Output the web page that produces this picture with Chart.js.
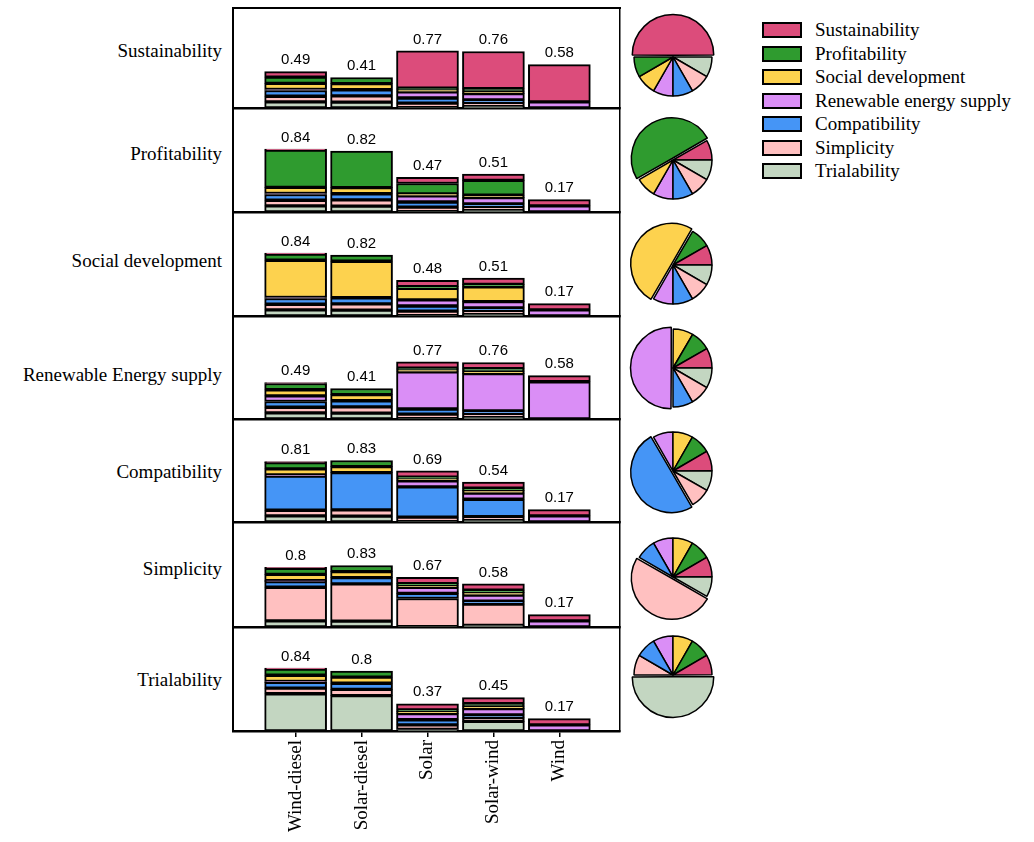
<!DOCTYPE html>
<html>
<head>
<meta charset="utf-8">
<script src="https://cdn.jsdelivr.net/npm/chart.js@4.4.1/dist/chart.umd.min.js"></script>
<style>
  body { margin: 0; background: #fff; }
  #wrap { position: relative; width: 1034px; height: 842px; overflow: hidden; }
  #wrap canvas { position: absolute; }
  .rowTitle { position: absolute; left: 0; width: 222px; text-align: right; line-height: 24px;
              font: 19px "Liberation Serif", "DejaVu Serif", serif; color: #000; white-space: nowrap; }
  .legItem { position: absolute; left: 762px; height: 22px; display: flex; align-items: center;
             font: 19px "Liberation Serif", "DejaVu Serif", serif; color: #000; white-space: nowrap; }
  .legBox { display: inline-block; box-sizing: border-box; width: 40px; height: 16px;
            border: 2px solid #000; margin-right: 13px; }
</style>
</head>
<body>
<div id="wrap"></div>
<script>
// categories
const alternatives = ['Wind-diesel', 'Solar-diesel', 'Solar', 'Solar-wind', 'Wind'];
const criteria = ['Sustainability', 'Profitability', 'Social development', 'Renewable energy supply',
                  'Compatibility', 'Simplicity', 'Trialability'];
const rowTitles = ['Sustainability', 'Profitability', 'Social development', 'Renewable Energy supply',
                   'Compatibility', 'Simplicity', 'Trialability'];
const colours = ['#dc4c7b', '#2f9b2f', '#fdd24e', '#da8ef6', '#4595f6', '#ffc0c0', '#c3d6c1'];

// stacked segments: one line per criterion (legend order), one value per alternative
const sustainabilityBars = [
  [0.075, 0, 0.5, 0.5, 0.5],
  [0.083, 0.082, 0.023, 0.033, 0],
  [0.083, 0.082, 0.026, 0.033, 0],
  [0.013, 0, 0.083, 0.083, 0.083],
  [0.077, 0.083, 0.068, 0.039, 0],
  [0.075, 0.083, 0.063, 0.048, 0],
  [0.083, 0.079, 0.003, 0.022, 0]
];
const profitabilityBars = [
  [0.013, 0, 0.083, 0.083, 0.083],
  [0.5, 0.49, 0.14, 0.2, 0],
  [0.083, 0.082, 0.026, 0.033, 0],
  [0.013, 0, 0.083, 0.083, 0.083],
  [0.077, 0.083, 0.068, 0.039, 0],
  [0.075, 0.083, 0.063, 0.048, 0],
  [0.083, 0.079, 0.003, 0.022, 0]
];
const socialBars = [
  [0.013, 0, 0.083, 0.083, 0.083],
  [0.083, 0.082, 0.023, 0.033, 0],
  [0.5, 0.49, 0.155, 0.2, 0],
  [0.013, 0, 0.083, 0.083, 0.083],
  [0.077, 0.083, 0.068, 0.039, 0],
  [0.075, 0.083, 0.063, 0.048, 0],
  [0.083, 0.079, 0.003, 0.022, 0]
];
const renewableBars = [
  [0.013, 0, 0.083, 0.083, 0.083],
  [0.083, 0.082, 0.023, 0.033, 0],
  [0.083, 0.082, 0.026, 0.033, 0],
  [0.075, 0, 0.5, 0.5, 0.5],
  [0.077, 0.083, 0.068, 0.039, 0],
  [0.075, 0.083, 0.063, 0.048, 0],
  [0.083, 0.079, 0.003, 0.022, 0]
];
const compatibilityBars = [
  [0.013, 0, 0.083, 0.083, 0.083],
  [0.083, 0.082, 0.023, 0.033, 0],
  [0.083, 0.082, 0.026, 0.033, 0],
  [0.013, 0, 0.083, 0.083, 0.083],
  [0.46, 0.5, 0.405, 0.235, 0],
  [0.075, 0.083, 0.063, 0.048, 0],
  [0.083, 0.079, 0.003, 0.022, 0]
];
const simplicityBars = [
  [0.013, 0, 0.083, 0.083, 0.083],
  [0.083, 0.082, 0.023, 0.033, 0],
  [0.083, 0.082, 0.026, 0.033, 0],
  [0.013, 0, 0.083, 0.083, 0.083],
  [0.077, 0.083, 0.068, 0.039, 0],
  [0.45, 0.5, 0.38, 0.285, 0],
  [0.083, 0.079, 0.003, 0.022, 0]
];
const trialabilityBars = [
  [0.013, 0, 0.083, 0.083, 0.083],
  [0.083, 0.082, 0.023, 0.033, 0],
  [0.083, 0.082, 0.026, 0.033, 0],
  [0.013, 0, 0.083, 0.083, 0.083],
  [0.077, 0.083, 0.068, 0.039, 0],
  [0.075, 0.083, 0.063, 0.048, 0],
  [0.5, 0.475, 0.02, 0.13, 0]
];

// totals printed above the bars
const sustainabilityTotals = ['0.49', '0.41', '0.77', '0.76', '0.58'];
const profitabilityTotals = ['0.84', '0.82', '0.47', '0.51', '0.17'];
const socialTotals = ['0.84', '0.82', '0.48', '0.51', '0.17'];
const renewableTotals = ['0.49', '0.41', '0.77', '0.76', '0.58'];
const compatibilityTotals = ['0.81', '0.83', '0.69', '0.54', '0.17'];
const simplicityTotals = ['0.8', '0.83', '0.67', '0.58', '0.17'];
const trialabilityTotals = ['0.84', '0.8', '0.37', '0.45', '0.17'];

// criterion weights shown in the pies (legend order)
const sustainabilityWeights = [0.5, 0.083, 0.083, 0.083, 0.083, 0.083, 0.083];
const profitabilityWeights = [0.083, 0.5, 0.083, 0.083, 0.083, 0.083, 0.083];
const socialWeights = [0.083, 0.083, 0.5, 0.083, 0.083, 0.083, 0.083];
const renewableWeights = [0.083, 0.083, 0.083, 0.5, 0.083, 0.083, 0.083];
const compatibilityWeights = [0.083, 0.083, 0.083, 0.083, 0.5, 0.083, 0.083];
const simplicityWeights = [0.083, 0.083, 0.083, 0.083, 0.083, 0.5, 0.083];
const trialabilityWeights = [0.083, 0.083, 0.083, 0.083, 0.083, 0.083, 0.5];

const rows = [
  { bars: sustainabilityBars, totals: sustainabilityTotals, weights: sustainabilityWeights },
  { bars: profitabilityBars, totals: profitabilityTotals, weights: profitabilityWeights },
  { bars: socialBars, totals: socialTotals, weights: socialWeights },
  { bars: renewableBars, totals: renewableTotals, weights: renewableWeights },
  { bars: compatibilityBars, totals: compatibilityTotals, weights: compatibilityWeights },
  { bars: simplicityBars, totals: simplicityTotals, weights: simplicityWeights },
  { bars: trialabilityBars, totals: trialabilityTotals, weights: trialabilityWeights }
];

// layout
const rowTops = [8, 108, 212, 316, 419, 522, 627];
const rowBottoms = [108, 212, 316, 419, 522, 627, 731];
const titleY = [52, 155, 262, 376, 473, 570, 681];
const pieCentres = [57, 160, 265, 368, 471, 577, 675];
const pieRotations = [180, 180, 180, 180, 330, 330, 330];
const pieOrder = [3, 2, 1, 0, 6, 5, 4]; // clockwise drawing order of the slices
const pxPerUnit = 74.5;
const serif = '"Liberation Serif", "DejaVu Serif", serif';

const wrap = document.getElementById('wrap');

function addCanvas(left, top, w, h) {
  const c = document.createElement('canvas');
  c.width = w; c.height = h;
  c.style.left = left + 'px';
  c.style.top = top + 'px';
  c.style.width = w + 'px';
  c.style.height = h + 'px';
  wrap.appendChild(c);
  return c;
}

// value printed above each stack
const totalsLabels = {
  id: 'totalsLabels',
  afterDatasetsDraw(chart, args, opts) {
    const ctx = chart.ctx;
    const top = chart.getDatasetMeta(chart.data.datasets.length - 1).data;
    ctx.save();
    ctx.font = '15px "Liberation Sans", Arial, sans-serif';
    ctx.fillStyle = '#000';
    ctx.textAlign = 'center';
    ctx.textBaseline = 'bottom';
    opts.labels.forEach((t, i) => ctx.fillText(t, top[i].x, top[i].y - 4));
    ctx.restore();
  }
};

Chart.defaults.animation = false;

rows.forEach((row, r) => {
  const h = rowBottoms[r] - rowTops[r];
  const last = r === rows.length - 1;
  const axisH = last ? 110 : 2;
  const canvas = addCanvas(228, rowTops[r] - 2, 398, h + 2 + axisH);

  // first dataset sits at the bottom of the stack, so build from Trialability up
  const datasets = criteria.map((name, j) => ({
    label: name,
    data: row.bars[j].map((v, k) => ({ x: k + 1, y: v })),
    backgroundColor: colours[j],
    borderColor: '#000',
    borderWidth: 2,
    borderSkipped: false,
    barThickness: 62
  })).reverse();

  const scales = {
    x: {
      type: 'linear', stacked: true, bounds: 'data', min: 0.05, max: 5.92, offset: false,
      afterBuildTicks: s => { s.ticks = alternatives.map((a, k) => ({ value: k + 1 })); },
      afterFit: s => { s.height = axisH; },
      border: { display: true, color: '#000', width: 2.5 },
      grid: { display: last, offset: false, drawOnChartArea: false, drawTicks: true, tickLength: 6, color: '#000', lineWidth: 1.5 },
      ticks: {
        display: last, autoSkip: false, maxRotation: 90, minRotation: 90, padding: 3,
        color: '#000', font: { family: serif, size: 19 },
        callback: v => alternatives[v - 1]
      }
    },
    y: {
      type: 'linear', stacked: true, min: 0, max: h / pxPerUnit,
      afterFit: s => { s.width = 0; },
      border: { display: true, color: '#000', width: 2 },
      grid: { display: false },
      ticks: { display: false }
    },
    yRight: {
      type: 'linear', position: 'right', display: true,
      afterFit: s => { s.width = 0; },
      border: { display: true, color: '#000', width: 1.5 },
      grid: { display: false },
      ticks: { display: false }
    }
  };
  if (r === 0) {
    scales.xTop = {
      type: 'linear', position: 'top', display: true,
      afterFit: s => { s.height = 0; },
      border: { display: true, color: '#000', width: 2 },
      grid: { display: false },
      ticks: { display: false }
    };
  }

  new Chart(canvas, {
    type: 'bar',
    data: { datasets },
    options: {
      responsive: false,
      layout: { padding: { left: 5, right: 6, top: 2, bottom: 0 } },
      plugins: {
        legend: { display: false },
        tooltip: { enabled: false },
        totalsLabels: { labels: row.totals }
      },
      scales
    },
    plugins: [totalsLabels]
  });

  // pie of criterion weights
  const pc = addCanvas(673 - 55, pieCentres[r] - 55, 110, 110);
  new Chart(pc, {
    type: 'pie',
    data: {
      labels: pieOrder.map(j => criteria[j]),
      datasets: [{
        data: pieOrder.map(j => row.weights[j]),
        backgroundColor: pieOrder.map(j => colours[j]),
        borderColor: '#000',
        borderWidth: 1.5,
        offset: pieOrder.map(j => row.weights[j] > 0.3 ? 7 : 0),
        radius: 39
      }]
    },
    options: {
      responsive: false,
      rotation: pieRotations[r],
      layout: { padding: 0 },
      plugins: { legend: { display: false }, tooltip: { enabled: false } }
    }
  });

  const t = document.createElement('div');
  t.className = 'rowTitle';
  t.style.top = (titleY[r] - 12) + 'px';
  t.textContent = rowTitles[r];
  wrap.appendChild(t);
});

// legend
criteria.forEach((name, j) => {
  const item = document.createElement('div');
  item.className = 'legItem';
  item.style.top = (30 + j * 23.5 - 11) + 'px';
  const box = document.createElement('span');
  box.className = 'legBox';
  box.style.background = colours[j];
  item.appendChild(box);
  item.appendChild(document.createTextNode(name));
  wrap.appendChild(item);
});
</script>
</body>
</html>
